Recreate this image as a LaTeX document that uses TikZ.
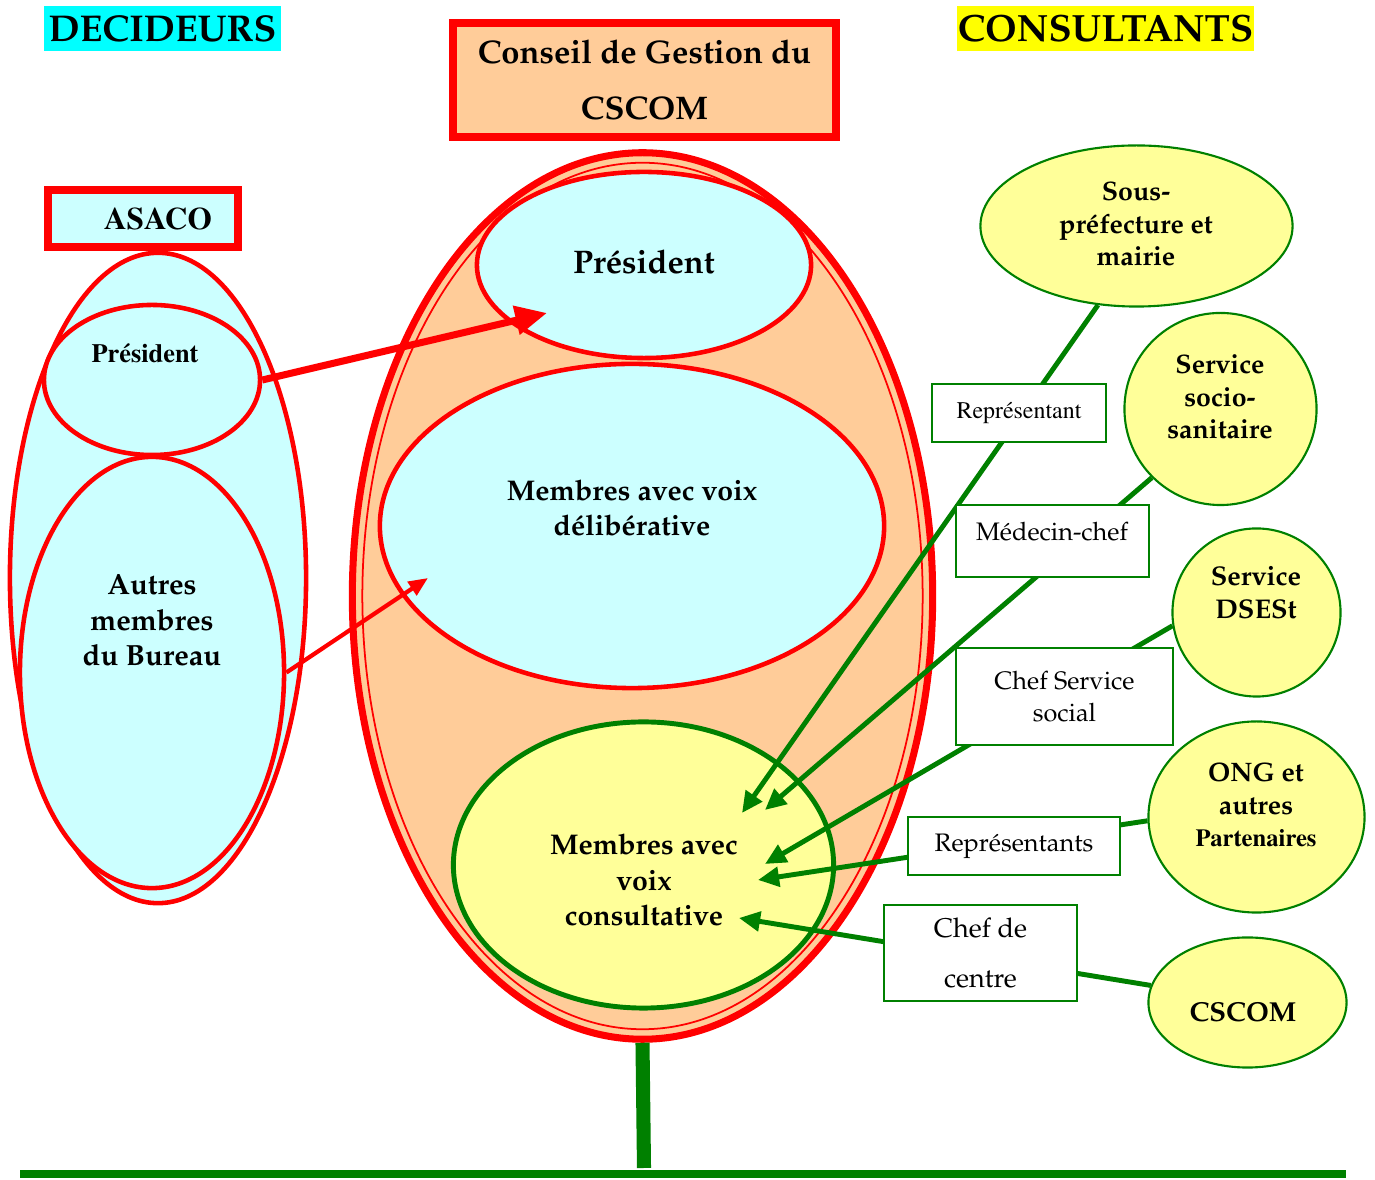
\documentclass[tikz,border=0pt]{standalone}
\usepackage[T1]{fontenc}
\usepackage{mathpazo}
\usepackage{tikz}
\usetikzlibrary{shapes.geometric}
\usetikzlibrary{arrows.meta}

\definecolor{peach}{HTML}{FFCC99}
\definecolor{paleblue}{HTML}{CCFFFF}
\definecolor{paleyellow}{HTML}{FFFF99}
\definecolor{leafgreen}{HTML}{008000}
\definecolor{aqua}{HTML}{00FFFF}
\definecolor{lemon}{HTML}{FFFF00}
\newcommand{\tms}{\fontfamily{ptm}\selectfont}

\begin{document}
\begin{tikzpicture}[x=0.01cm,y=-0.01cm,
    redell/.style={ellipse,draw=red,line width=1.3pt,fill=paleblue,inner sep=0pt},
    grnell/.style={ellipse,draw=leafgreen,line width=0.6pt,fill=paleyellow,inner sep=0pt},
    gbox/.style={rectangle,draw=leafgreen,line width=0.6pt,fill=white,inner sep=0pt,align=center,font=\fontsize{7.2}{9.1}\selectfont},
    btxt/.style={align=center,inner sep=0pt,font=\bfseries\fontsize{7.6}{9.3}\selectfont},
    gto/.style={draw=leafgreen,line width=1.4pt,-{Triangle[length=6pt,width=5.5pt]}}]
\useasboundingbox (0,0) rectangle (1375,1180);

% titres
\node[fill=aqua,minimum width=2.37cm,minimum height=0.45cm,inner sep=0pt,font=\bfseries\fontsize{10.6}{13}\selectfont] (decid) at (162.5,28.5) {DECIDEURS};
\node[fill=lemon,minimum width=2.97cm,minimum height=0.45cm,inner sep=0pt,font=\bfseries\fontsize{10.8}{13}\selectfont] (consult) at (1105.5,28.5) {CONSULTANTS};
\node[draw=red,line width=2.3pt,fill=peach,minimum width=3.83cm,minimum height=1.14cm,inner sep=0pt,align=center,font=\bfseries\fontsize{9.3}{15.9}\selectfont] (cgtitre) at (644.5,80) {Conseil de Gestion du\\CSCOM};

% ASACO
\node[redell,minimum width=2.96cm,minimum height=6.5cm] (asacoell) at (158,578) {};
\node[draw=red,line width=2.3pt,fill=paleblue,minimum width=1.9cm,minimum height=0.57cm,inner sep=0pt,font=\tms\bfseries\fontsize{8.9}{10}\selectfont] (asaco) at (143,218.5) {\hspace*{3mm}ASACO};
\node[redell,minimum width=2.64cm,minimum height=4.31cm] (autres) at (152,672.5) {};
\node[redell,minimum width=2.16cm,minimum height=1.5cm] (lpres) at (152,380) {};
\node[inner sep=0pt,font=\tms\bfseries\fontsize{7.5}{9}\selectfont] (lprestxt) at (145,353) {Pr\'esident};
\node[btxt,font=\bfseries\fontsize{8.3}{10}\selectfont] (autrestxt) at (152,620) {Autres\\membres\\du Bureau};

% conseil de gestion
\node[ellipse,draw=red,line width=2pt,fill=peach,inner sep=0pt,minimum width=5.8cm,minimum height=8.86cm] (conseil) at (642.5,596) {};
\node[ellipse,draw=red,line width=0.5pt,inner sep=0pt,minimum width=5.6cm,minimum height=8.66cm] (conseilin) at (642.5,596) {};
\node[redell,minimum width=3.34cm,minimum height=1.86cm] (cpres) at (644,265) {};
\node[redell,minimum width=5.04cm,minimum height=3.24cm] (delib) at (632,526) {};
\node[ellipse,draw=leafgreen,line width=1.4pt,fill=paleyellow,inner sep=0pt,minimum width=3.8cm,minimum height=2.86cm] (consul) at (643.5,865) {};
\node[btxt,font=\bfseries\fontsize{9.3}{11}\selectfont] (cprestxt) at (644,262) {Pr\'esident};
\node[btxt,font=\bfseries\fontsize{8.1}{10}\selectfont] (delibtxt) at (632,508) {Membres avec voix\\d\'elib\'erative};
\node[btxt,font=\bfseries\fontsize{8.1}{10}\selectfont] (consultxt) at (644,880) {Membres avec\\voix\\consultative};

% sol
\coordinate (solg) at (20,1174);
\coordinate (sold) at (1346,1174);
\coordinate (pied) at (644,1168);
\draw[leafgreen,line width=2.3pt] (solg) -- (sold);
\draw[leafgreen,line width=4pt] (conseil.south) -- (pied);

% decideurs
\coordinate (tpres) at (547,313);
\coordinate (tdelib) at (428,578);
\draw[red,line width=2pt,-{Triangle[length=9pt,width=8pt]}] (lpres.east) -- (tpres);
\draw[red,line width=1.2pt,-{Triangle[length=5.5pt,width=4.5pt]}] (autres.east) -- (tdelib);

% consultants
\node[grnell,minimum width=3.12cm,minimum height=1.61cm] (sous) at (1136.5,226) {};
\node[grnell,minimum width=1.92cm,minimum height=1.92cm] (socio) at (1220.5,409) {};
\node[grnell,minimum width=1.68cm,minimum height=1.68cm] (dsest) at (1256.5,612.5) {};
\node[grnell,minimum width=2.16cm,minimum height=1.91cm] (ong) at (1256.5,817) {};
\node[grnell,minimum width=1.98cm,minimum height=1.3cm] (cscom) at (1247.5,1002.5) {};
\node[btxt] (soustxt) at (1136,224) {Sous-\\pr\'efecture et\\mairie};
\node[btxt] (sociotxt) at (1220,397) {Service\\socio-\\sanitaire};
\node[btxt,font=\bfseries\fontsize{7.7}{9.4}\selectfont] (dsesttxt) at (1256,593) {Service\\DSESt};
\node[btxt] (ongtxt) at (1256,805) {ONG et\\autres\\{\tms\fontsize{7}{9.3}\selectfont Partenaires}};
\node[btxt,font=\bfseries\fontsize{7.8}{9.4}\selectfont] (cscomtxt) at (1243,1012) {CSCOM};

\coordinate (t1) at (742,813);
\coordinate (t2) at (765,810);
\coordinate (t3) at (765,864);
\coordinate (t4) at (758,880);
\coordinate (t5) at (739,918);
\draw[gto] (sous.244) -- (t1);
\draw[gto] (socio.225) -- (t2);
\draw[gto] (dsest.189) -- (t3);
\draw[gto] (ong.182) -- (t4);
\draw[gto] (cscom.170) -- (t5);

\node[gbox,font=\tms\fontsize{6.8}{8}\selectfont,minimum width=1.74cm,minimum height=0.58cm] (rep) at (1019,413) {Repr\'esentant};
\node[gbox,minimum width=1.93cm,minimum height=0.72cm] (medchef) at (1052.5,541) {};
\node[inner sep=0pt,font=\fontsize{7.2}{9}\selectfont] (medtxt) at (1052,532) {M\'edecin-chef};
\node[gbox,minimum width=2.17cm,minimum height=0.97cm] (chefsoc) at (1064.5,696.5) {Chef Service\\social};
\node[gbox,minimum width=2.12cm,minimum height=0.58cm] (reps) at (1014,846) {Repr\'esentants};
\node[gbox,font=\fontsize{7.7}{14.2}\selectfont,minimum width=1.93cm,minimum height=0.96cm] (chefctr) at (980.5,953) {Chef de\\centre};

\end{tikzpicture}
\end{document}
